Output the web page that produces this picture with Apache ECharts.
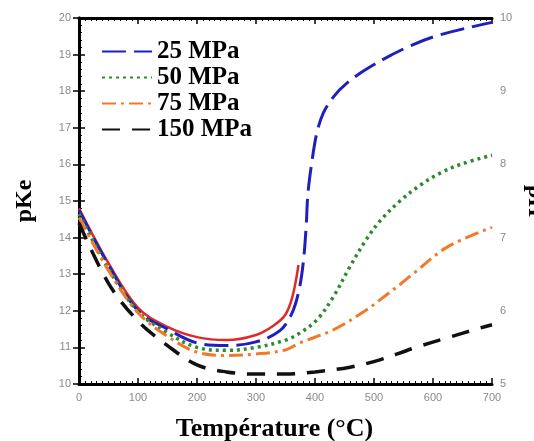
<!DOCTYPE html>
<html>
<head>
<meta charset="utf-8">
<script src="https://cdn.jsdelivr.net/npm/echarts@6/dist/echarts.min.js"></script>
<style>
  html, body { margin: 0; padding: 0; background: #fff; }
  #main { width: 534px; height: 441px; }
</style>
</head>
<body>
<div id="main"></div>
<script>
var mychart = echarts.init(document.getElementById('main'));

// temperature (°C) and pKe
var tRed   = [0, 50, 100, 150, 200, 250, 300, 330, 350, 362, 372];
var pkeRed = [14.8, 13.3, 12.08, 11.56, 11.28, 11.2, 11.34, 11.6, 11.9, 12.4, 13.25];

var t25   = [0, 50, 100, 150, 200, 250, 300, 340, 360, 372, 380, 385, 388, 395, 403, 414, 431, 454, 493, 556, 612, 700];
var pke25 = [14.75, 13.25, 12.0, 11.5, 11.12, 11.05, 11.15, 11.45, 11.9, 12.5, 13.3, 14.3, 15.2, 16.1, 16.85, 17.4, 17.84, 18.22, 18.66, 19.2, 19.54, 19.88];

var t50   = [0, 50, 100, 150, 200, 250, 300, 350, 374, 403, 431, 459, 487, 510, 544, 580, 612, 650, 700];
var pke50 = [14.65, 13.15, 11.98, 11.4, 11.0, 10.92, 11.0, 11.2, 11.39, 11.75, 12.38, 13.2, 13.95, 14.45, 15.0, 15.45, 15.76, 16.02, 16.25];

var t75   = [0, 50, 100, 150, 200, 250, 300, 350, 374, 431, 487, 510, 544, 567, 624, 700];
var pke75 = [14.55, 13.1, 11.95, 11.3, 10.87, 10.78, 10.82, 10.93, 11.12, 11.48, 12.02, 12.3, 12.72, 13.02, 13.74, 14.28];

var t150   = [0, 50, 100, 150, 200, 250, 300, 350, 400, 459, 510, 567, 624, 680, 700];
var pke150 = [14.4, 12.75, 11.72, 11.05, 10.52, 10.33, 10.27, 10.27, 10.33, 10.46, 10.66, 10.98, 11.26, 11.53, 11.62];

var legendNames = ['25 MPa', '50 MPa', '75 MPa', '150 MPa'];

function pairs(xs, ys) {
    var out = [];
    for (var i = 0; i < xs.length; i++) {
        out.push([xs[i], ys[i]]);
    }
    return out;
}

function line(name, data, color, dash, width) {
    return {
        name: name,
        type: 'line',
        data: data,
        showSymbol: false,
        symbol: 'none',
        smooth: 0.35,
        lineStyle: { color: color, width: width, type: dash },
        itemStyle: { color: color },
        z: 3
    };
}

var serif = '"Liberation Serif", "DejaVu Serif", serif';
var labelStyle = { color: '#8a8a8a', fontSize: 11, fontFamily: 'Arial, "Liberation Sans", sans-serif' };

var option = {
    animation: false,
    backgroundColor: '#fff',
    grid: { left: 79, right: 42, top: 18, bottom: 57, containLabel: false, outerBoundsMode: 'none' },
    legend: {
        data: legendNames,
        orient: 'vertical',
        left: 96,
        top: 34,
        itemGap: 1,
        itemWidth: 50,
        itemHeight: 12,
        itemStyle: { opacity: 0 },
        textStyle: { fontFamily: serif, fontWeight: 'bold', fontSize: 25, color: '#000', lineHeight: 24 }
    },
    xAxis: [{
        type: 'value',
        min: 0, max: 700, interval: 100,
        position: 'bottom',
        name: 'Température (°C)',
        nameLocation: 'middle',
        nameGap: 32,
        nameTextStyle: { fontFamily: serif, fontWeight: 'bold', fontSize: 26, color: '#000', padding: [0, 22, 0, 0] },
        axisLine: { lineStyle: { color: '#000', width: 3 } },
        axisTick: { inside: true, length: 6, lineStyle: { color: '#000', width: 1.5 } },
        minorTick: { show: true, splitNumber: 10, length: 3, lineStyle: { color: '#000' } },
        axisLabel: labelStyle,
        splitLine: { show: false }
    }, {
        type: 'value',
        min: 0, max: 700, interval: 100,
        position: 'top',
        axisLine: { lineStyle: { color: '#000', width: 3 } },
        axisTick: { inside: true, length: 6, lineStyle: { color: '#000', width: 1.5 } },
        minorTick: { show: true, splitNumber: 10, length: 3, lineStyle: { color: '#000' } },
        axisLabel: { show: false },
        splitLine: { show: false }
    }],
    yAxis: [{
        type: 'value',
        min: 10, max: 20, interval: 1,
        name: 'pKe',
        nameLocation: 'middle',
        nameGap: 42,
        nameTextStyle: { fontFamily: serif, fontWeight: 'bold', fontSize: 24, color: '#000' },
        axisLine: { show: true, lineStyle: { color: '#000', width: 3 } },
        axisTick: { show: true, inside: true, length: 6, lineStyle: { color: '#000', width: 1.5 } },
        minorTick: { show: true, splitNumber: 5, length: 3, lineStyle: { color: '#000' } },
        axisLabel: labelStyle,
        splitLine: { show: false }
    }, {
        type: 'value',
        position: 'right',
        min: 5, max: 10, interval: 0.5,
        name: 'pH',
        nameLocation: 'middle',
        nameGap: 20,
        nameRotate: -90,
        nameTextStyle: { fontFamily: serif, fontWeight: 'bold', fontSize: 24, color: '#000' },
        axisLine: { show: true, lineStyle: { color: '#000', width: 3 } },
        axisTick: { show: true, inside: true, length: 6, lineStyle: { color: '#000', width: 1.5 } },
        axisLabel: {
            color: labelStyle.color, fontSize: 11, fontFamily: labelStyle.fontFamily,
            formatter: function (v) { return v % 1 === 0 ? String(v) : ''; }
        },
        splitLine: { show: false }
    }],
    series: [
        line('red', pairs(tRed, pkeRed), '#e02a2a', 'solid', 2.5),
        line('25 MPa', pairs(t25, pke25), '#1f1fc0', [24, 8], 3),
        line('50 MPa', pairs(t50, pke50), '#2e8a2e', [3, 4], 3.5),
        line('75 MPa', pairs(t75, pke75), '#f07a2a', [14, 5, 3, 5], 3),
        line('150 MPa', pairs(t150, pke150), '#111111', [18, 12], 3.5)
    ]
};

mychart.setOption(option);
</script>
</body>
</html>
